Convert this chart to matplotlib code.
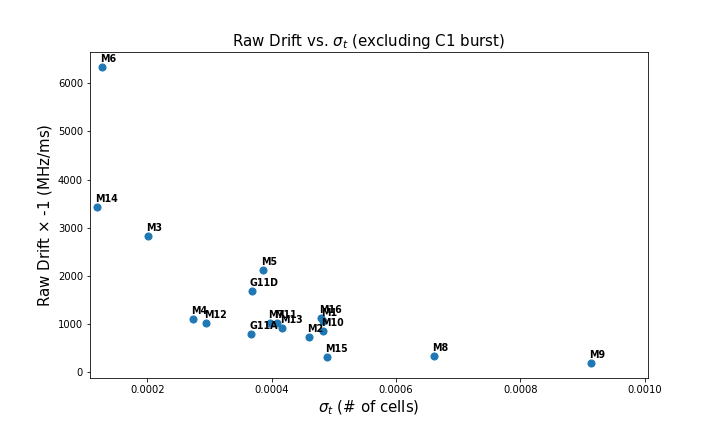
import matplotlib
matplotlib.use("Agg")
import matplotlib.pyplot as plt
from matplotlib.ticker import MultipleLocator

names = ["M6", "M14", "M3", "M5", "G11D", "M4", "M12", "G11A", "M7", "M11",
         "M13", "M2", "M16", "M1", "M10", "M15", "M8", "M9"]
sigma_t = [0.000128, 0.000120, 0.000201, 0.000386, 0.000368, 0.000274, 0.000295,
           0.000367, 0.000398, 0.000408, 0.000417, 0.000460, 0.000479, 0.000483,
           0.000483, 0.000489, 0.000662, 0.000914]
drift = [6345, 3431, 2826, 2118, 1681, 1098, 1015, 786, 1015, 1027,
         911, 723, 1119, 1060, 845, 306, 333, 181]

fig = plt.figure(figsize=(10, 6), dpi=72)
ax = fig.add_axes([90/720, 1 - 378/432, (648 - 90)/720, (378 - 52)/432])
ax.scatter(sigma_t, drift, s=50, color="#1f77b4")
for n, x, y in zip(names, sigma_t, drift):
    ax.annotate(n, (x, y), textcoords="offset points", xytext=(-2, 5),
                fontsize=9.5, fontweight="bold")
ax.set_xlim(min(sigma_t) * 0.9, max(sigma_t) * 1.1)
ax.xaxis.set_major_locator(MultipleLocator(0.0002))
ax.set_title(r"Raw Drift vs. $\sigma_t$ (excluding C1 burst)", fontsize=15)
ax.set_xlabel(r"$\sigma_t$ (# of cells)", fontsize=15)
ax.set_ylabel(r"Raw Drift $\times$ -1 (MHz/ms)", fontsize=15)
ax.tick_params(labelsize=10)
fig.savefig("out.png", dpi=72)
